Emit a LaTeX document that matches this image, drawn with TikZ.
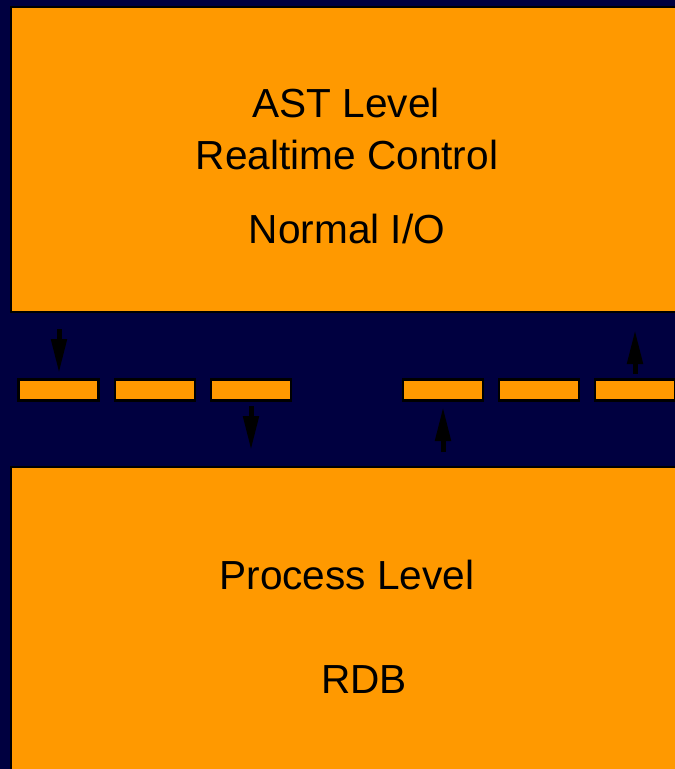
\documentclass[tikz,border=0pt]{standalone}
\usepackage{fontspec}
\setmainfont{Liberation Sans}
\usetikzlibrary{arrows.meta}
\definecolor{navy}{RGB}{0,0,64}
\definecolor{orng}{RGB}{255,153,0}
\begin{document}
\begin{tikzpicture}[x=1pt,y=-1pt,
  level/.style={draw=black,fill=orng,line width=2.5pt},
  bar/.style={draw=black,fill=orng,line width=2.2pt,rectangle,inner sep=0pt,minimum width=80pt,minimum height=21pt},
  lbl/.style={anchor=base,inner sep=0pt,font=\fontsize{40.6}{48}\selectfont},
  flow/.style={line width=5pt,-{Triangle[length=34pt,width=15pt]}}]
\useasboundingbox (0,0) rectangle (675,769);
\clip (0,0) rectangle (675,769);
\fill[navy] (0,0) rectangle (675,769);
% level boxes
\draw[level] (11,7) rectangle (700,312);
\draw[level] (11,467) rectangle (700,800);
\node[lbl] (ast) at (346,117) {AST Level};
\node[lbl] (rtc) at (347,169) {Realtime Control};
\node[lbl] (nio) at (347,243) {Normal I/O};
\node[lbl] (proc) at (347,589) {Process Level};
\node[lbl] (rdb) at (364,693) {RDB};
% bars
\node[bar] (b1) at (58.5,390) {};
\node[bar] (b2) at (155,390) {};
\node[bar] (b3) at (251,390) {};
\node[bar] (b4) at (443,390) {};
\node[bar] (b5) at (539,390) {};
\node[bar] (b6) at (635,390) {};
% arrows
\coordinate (a1s) at (59,329);
\coordinate (a1e) at (59,373);
\coordinate (a2s) at (251,406);
\coordinate (a2e) at (251,450);
\coordinate (a3s) at (443,452);
\coordinate (a3e) at (443,407);
\coordinate (a4s) at (635,374);
\coordinate (a4e) at (635,330);
\draw[flow] (a1s) -- (a1e);
\draw[flow] (a2s) -- (a2e);
\draw[flow] (a3s) -- (a3e);
\draw[flow] (a4s) -- (a4e);
\end{tikzpicture}
\end{document}
